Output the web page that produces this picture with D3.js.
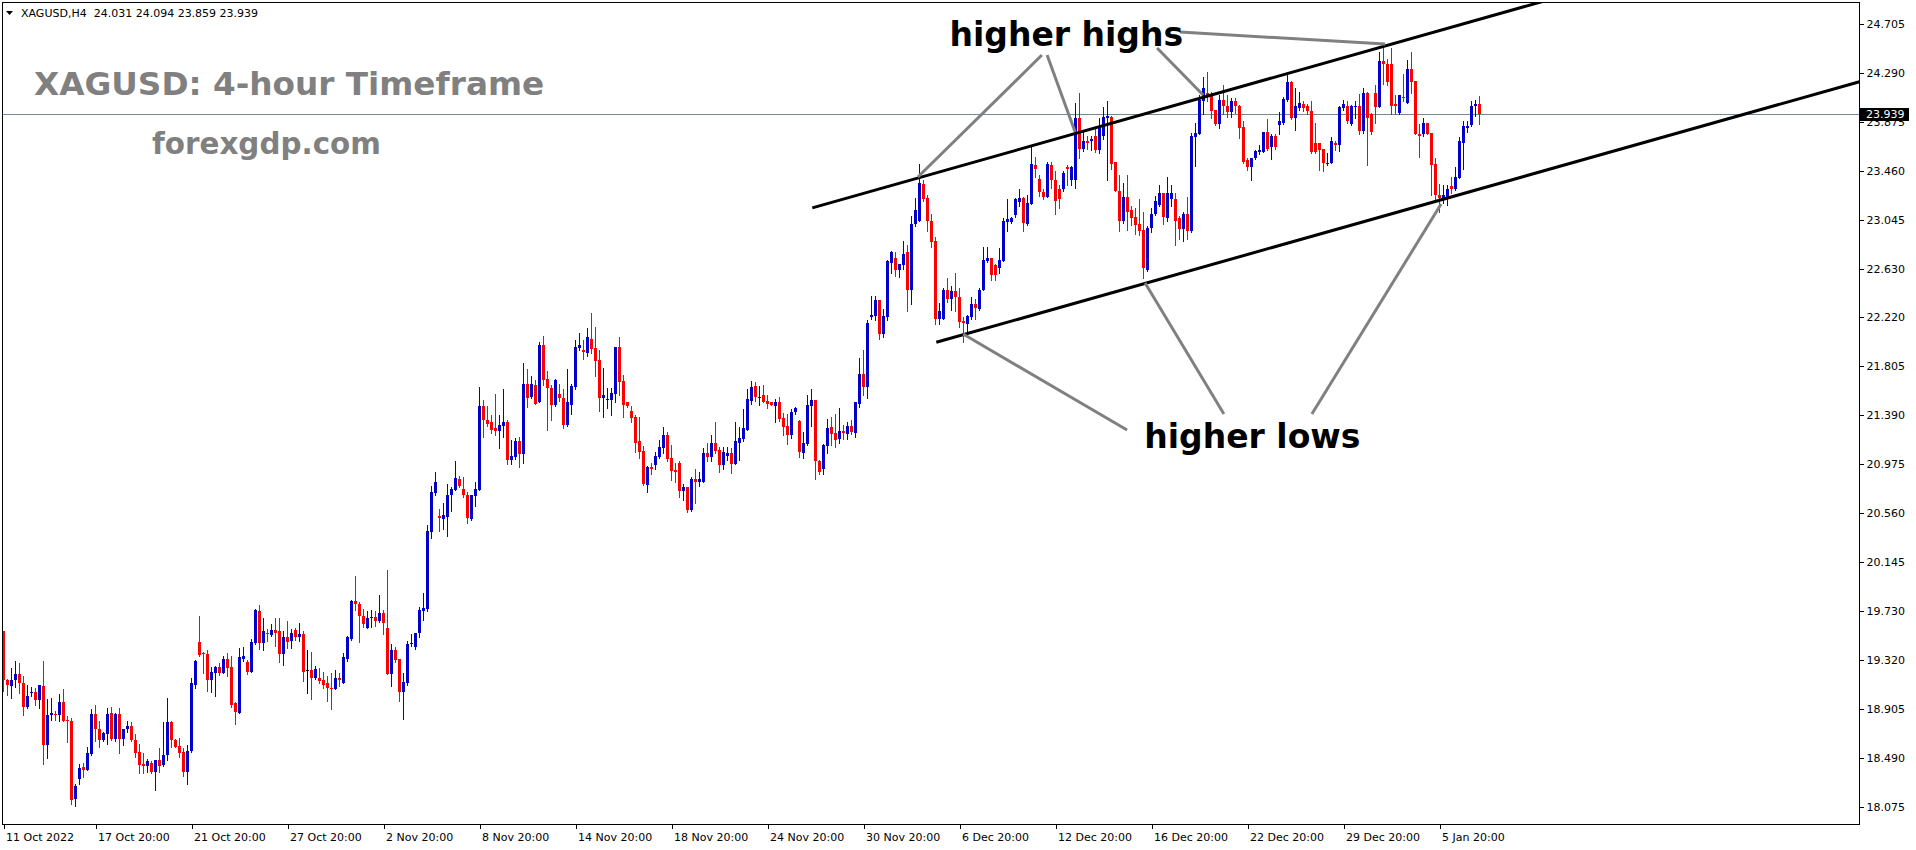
<!DOCTYPE html>
<html><head><meta charset="utf-8">
<script src="https://cdn.jsdelivr.net/npm/d3@7"></script>
<style>body{margin:0;background:#fff;overflow:hidden}svg{display:block}</style>
</head><body>
<svg id="chart" width="1916" height="850"></svg>
<script>
// ---------------- DATA (XAGUSD, H4) ----------------
const opens = [
19.56,19.15,19.10,19.15,19.20,19.12,18.92,19.04,19.05,18.98,
19.10,18.60,18.85,18.86,18.85,18.96,18.81,18.80,18.14,18.31,
18.41,18.39,18.52,18.86,18.73,18.64,18.69,18.87,18.65,18.86,
18.65,18.73,18.76,18.64,18.54,18.44,18.42,18.45,18.37,18.47,
18.43,18.51,18.79,18.64,18.59,18.54,18.37,18.55,19.11,19.47,
19.38,19.37,19.15,19.21,19.26,19.21,19.33,19.26,18.95,18.87,
19.33,19.30,19.22,19.46,19.73,19.46,19.55,19.53,19.57,19.56,
19.37,19.51,19.48,19.57,19.51,19.54,19.23,19.23,19.17,19.17,
19.15,19.12,19.08,19.07,19.17,19.12,19.33,19.50,19.82,19.79,
19.69,19.59,19.67,19.68,19.65,19.72,19.59,19.20,19.40,19.33,
19.05,19.12,19.45,19.43,19.55,19.73,19.75,20.40,20.73,20.54,
20.51,20.53,20.72,20.76,20.85,20.77,20.72,20.51,20.71,20.76,
21.47,21.35,21.33,21.28,21.26,21.30,21.33,21.01,21.04,21.17,
21.06,21.66,21.55,21.65,21.50,21.99,21.70,21.62,21.48,21.57,
21.54,21.31,21.48,21.63,21.96,21.94,21.92,22.04,21.96,21.86,
21.54,21.52,21.52,21.57,21.97,21.68,21.50,21.43,21.38,21.17,
21.09,20.80,20.95,20.97,21.04,21.11,21.22,21.03,20.93,20.99,
20.75,20.78,20.59,20.85,20.83,20.83,21.07,21.04,21.16,21.10,
20.97,21.05,21.07,20.98,21.16,21.19,21.27,21.51,21.64,21.54,
21.56,21.51,21.50,21.47,21.50,21.37,21.30,21.22,21.42,21.34,
21.07,21.15,21.47,21.52,21.00,20.94,21.13,21.29,21.24,21.19,
21.26,21.23,21.30,21.24,21.49,21.74,21.63,22.22,22.23,22.37,
22.08,22.22,22.68,22.72,22.62,22.66,22.77,22.45,23.01,23.04,
23.35,23.23,23.04,22.87,22.21,22.21,22.45,22.38,22.44,22.39,
22.19,22.16,22.22,22.33,22.29,22.45,22.70,22.72,22.66,22.64,
22.70,23.03,23.03,23.09,23.20,23.23,23.01,23.18,23.51,23.39,
23.28,23.24,23.51,23.38,23.31,23.31,23.49,23.38,23.38,23.91,
23.65,23.71,23.71,23.76,23.64,23.76,23.91,23.92,23.54,23.29,
23.04,23.24,23.13,23.07,23.01,22.96,22.62,22.98,23.10,23.17,
23.27,23.06,23.22,23.22,23.06,22.97,23.10,22.95,23.75,23.77,
24.05,24.12,24.10,23.98,23.86,24.06,24.01,23.96,24.05,24.01,
23.83,23.55,23.49,23.57,23.62,23.62,23.79,23.66,23.76,23.85,
23.87,24.06,24.21,23.91,23.99,24.03,24.01,23.97,23.70,23.70,
23.65,23.52,23.53,23.70,23.68,23.99,24.01,23.86,24.00,24.01,
23.80,24.12,23.94,24.12,24.00,24.39,24.37,24.37,24.03,23.95,
24.09,24.04,24.32,24.22,23.77,23.77,23.87,23.78,23.52,23.26,
23.23,23.23,23.33,23.31,23.40,23.70,23.82,23.85,24.01,24.031];
const highs = [
19.56,19.16,19.25,19.31,19.29,19.18,19.11,19.09,19.08,19.11,
19.31,18.99,19.00,18.89,19.03,19.07,18.84,18.83,18.27,18.44,
18.45,18.58,18.90,18.94,18.80,18.71,18.91,18.92,18.87,18.91,
18.73,18.80,18.79,18.69,18.61,18.53,18.48,18.46,18.47,18.57,
18.79,19.00,18.80,18.65,18.66,18.57,18.60,19.17,19.32,19.69,
19.39,19.40,19.26,19.27,19.29,19.35,19.38,19.35,18.96,19.42,
19.43,19.32,19.50,19.75,19.78,19.67,19.58,19.62,19.67,19.67,
19.56,19.65,19.58,19.59,19.63,19.56,19.40,19.39,19.27,19.25,
19.22,19.18,19.21,19.23,19.21,19.38,19.52,19.83,20.03,19.81,
19.75,19.73,19.74,19.73,19.87,19.74,20.08,19.45,19.43,19.33,
19.21,19.48,19.54,19.55,19.77,19.89,20.46,20.79,20.91,20.60,
20.65,20.81,20.78,21.00,20.88,20.87,20.74,20.72,20.83,21.63,
21.52,21.47,21.39,21.57,21.39,21.61,21.35,21.18,21.20,21.21,
21.83,21.78,21.72,21.69,22.01,22.06,21.77,21.65,21.70,21.66,
21.61,21.78,21.66,22.03,22.09,22.03,22.13,22.26,22.14,21.94,
21.79,21.62,21.62,21.97,22.05,21.73,21.50,21.47,21.39,21.38,
21.13,20.96,20.99,21.08,21.18,21.29,21.25,21.14,20.99,21.00,
20.81,20.78,20.87,20.94,20.91,21.11,21.16,21.22,21.33,21.12,
21.12,21.12,21.11,21.33,21.29,21.44,21.61,21.68,21.67,21.64,
21.65,21.56,21.50,21.53,21.55,21.41,21.40,21.44,21.46,21.35,
21.25,21.56,21.61,21.52,21.01,21.15,21.36,21.38,21.40,21.45,
21.31,21.33,21.35,21.50,21.88,21.94,22.20,22.40,22.40,22.37,
22.29,22.71,22.78,22.77,22.67,22.87,22.83,23.08,23.23,23.52,
23.38,23.26,23.10,22.90,22.34,22.47,22.55,22.49,22.60,22.47,
22.22,22.24,22.39,22.38,22.47,22.82,22.82,22.72,22.67,22.81,
23.06,23.22,23.07,23.23,23.31,23.24,23.26,23.66,23.58,23.43,
23.31,23.54,23.54,23.46,23.34,23.46,23.51,23.50,24.04,24.12,
23.80,23.76,23.76,23.82,23.91,24.00,24.05,23.93,23.54,23.43,
23.36,23.43,23.16,23.15,23.22,23.11,22.99,23.15,23.25,23.34,
23.27,23.41,23.34,23.27,23.08,23.11,23.24,23.78,23.87,24.10,
24.26,24.30,24.13,23.98,24.10,24.19,24.10,24.08,24.08,24.02,
23.88,23.57,23.57,23.64,23.68,23.79,23.90,23.77,23.77,23.96,
24.09,24.27,24.22,24.16,24.13,24.05,24.03,24.05,23.87,23.70,
23.65,23.61,23.75,23.71,24.01,24.06,24.05,24.02,24.05,24.11,
24.16,24.13,23.95,24.19,24.47,24.51,24.41,24.50,24.10,24.10,
24.28,24.40,24.47,24.22,23.86,23.91,23.87,23.78,23.57,23.35,
23.34,23.34,23.41,23.49,23.75,23.88,23.88,24.05,24.06,24.094];
const lows = [
19.06,19.02,19.00,19.09,19.04,18.85,18.91,19.01,18.94,18.91,
18.44,18.49,18.81,18.81,18.80,18.80,18.62,18.10,18.08,18.27,
18.33,18.39,18.51,18.63,18.58,18.63,18.61,18.64,18.63,18.53,
18.60,18.71,18.63,18.50,18.36,18.36,18.37,18.36,18.22,18.37,
18.42,18.47,18.58,18.58,18.50,18.34,18.27,18.54,19.08,19.35,
19.21,19.06,19.05,19.01,19.19,19.21,19.18,18.92,18.78,18.87,
19.31,19.20,19.22,19.45,19.41,19.40,19.48,19.52,19.44,19.30,
19.28,19.42,19.42,19.49,19.48,19.14,19.04,18.99,19.16,19.12,
19.08,18.97,18.90,19.07,19.10,19.12,19.31,19.49,19.74,19.47,
19.60,19.59,19.60,19.61,19.64,19.54,19.20,19.10,19.30,18.97,
18.82,19.11,19.44,19.41,19.51,19.66,19.73,20.35,20.72,20.41,
20.43,20.37,20.58,20.76,20.78,20.70,20.48,20.50,20.62,20.76,
21.21,21.30,21.24,21.22,21.11,21.21,20.98,20.98,21.02,20.95,
20.99,21.46,21.54,21.49,21.50,21.65,21.27,21.35,21.47,21.51,
21.28,21.30,21.40,21.61,21.94,21.87,21.89,21.92,21.72,21.43,
21.38,21.45,21.39,21.50,21.56,21.38,21.46,21.33,21.08,21.03,
20.80,20.74,20.89,20.94,21.03,21.07,21.00,20.84,20.83,20.70,
20.67,20.57,20.58,20.65,20.79,20.83,21.00,21.00,21.07,20.91,
20.94,21.01,20.90,20.98,21.01,21.17,21.27,21.49,21.51,21.48,
21.50,21.45,21.48,21.33,21.34,21.22,21.15,21.20,21.40,21.04,
21.03,21.14,21.30,20.85,20.89,20.89,21.07,21.14,21.12,21.16,
21.19,21.19,21.23,21.21,21.46,21.56,21.54,22.21,22.20,22.04,
22.05,22.20,22.60,22.57,22.56,22.63,22.27,22.33,22.99,23.04,
23.21,22.95,22.82,22.16,22.16,22.21,22.35,22.28,22.27,22.14,
22.01,22.10,22.21,22.21,22.28,22.45,22.69,22.54,22.54,22.60,
22.70,22.95,23.02,23.07,23.16,22.95,23.00,23.18,23.41,23.25,
23.22,23.24,23.32,23.10,23.15,23.29,23.34,23.34,23.32,23.57,
23.63,23.65,23.64,23.62,23.61,23.73,23.38,23.48,23.29,22.95,
23.02,22.96,23.00,22.93,22.92,22.55,22.61,22.94,23.09,23.16,
23.01,23.04,23.16,22.83,22.88,22.87,22.88,22.94,23.50,23.77,
23.94,24.05,23.91,23.85,23.82,23.94,23.92,23.92,23.95,23.74,
23.53,23.47,23.38,23.56,23.60,23.62,23.64,23.56,23.65,23.77,
23.86,24.05,23.90,23.81,23.98,23.97,23.94,23.61,23.61,23.47,
23.46,23.51,23.53,23.64,23.63,23.98,23.87,23.85,23.91,23.77,
23.78,23.51,23.77,23.87,24.00,24.20,24.19,23.94,23.94,23.94,
24.05,24.04,24.12,23.77,23.58,23.76,23.77,23.26,23.20,23.11,
23.19,23.17,23.27,23.30,23.40,23.48,23.79,23.84,23.93,23.859];
const closes = [
19.15,19.11,19.15,19.20,19.12,18.92,19.01,19.05,18.98,19.11,
18.60,18.85,18.87,18.85,18.96,18.80,18.80,18.13,18.25,18.40,
18.39,18.53,18.86,18.73,18.64,18.70,18.86,18.65,18.86,18.65,
18.73,18.76,18.64,18.53,18.43,18.42,18.46,18.37,18.47,18.42,
18.51,18.79,18.64,18.58,18.53,18.37,18.55,19.12,19.31,19.36,
19.37,19.15,19.22,19.26,19.21,19.33,19.25,18.94,18.88,19.34,
19.35,19.22,19.47,19.74,19.46,19.56,19.54,19.57,19.55,19.37,
19.51,19.47,19.55,19.51,19.54,19.22,19.23,19.17,19.24,19.14,
19.11,19.08,19.07,19.17,19.15,19.34,19.51,19.82,19.79,19.69,
19.62,19.67,19.68,19.65,19.72,19.63,19.20,19.40,19.32,19.05,
19.13,19.45,19.46,19.55,19.74,19.76,20.41,20.74,20.83,20.52,
20.55,20.72,20.77,20.86,20.79,20.72,20.52,20.72,20.77,21.47,
21.35,21.32,21.27,21.26,21.31,21.33,21.01,21.05,21.17,21.06,
21.66,21.54,21.66,21.49,21.99,21.69,21.62,21.48,21.69,21.54,
21.31,21.50,21.64,21.97,21.99,21.93,22.05,21.95,21.85,21.54,
21.56,21.53,21.58,21.97,21.67,21.48,21.47,21.37,21.16,21.08,
20.81,20.95,20.94,21.05,21.12,21.22,21.02,20.92,20.91,20.75,
20.78,20.59,20.85,20.83,20.85,21.07,21.04,21.16,21.09,20.97,
21.08,21.07,20.98,21.17,21.20,21.28,21.53,21.63,21.55,21.55,
21.50,21.49,21.48,21.50,21.36,21.29,21.22,21.42,21.45,21.08,
21.16,21.48,21.52,21.00,20.91,21.14,21.28,21.23,21.18,21.26,
21.24,21.30,21.25,21.50,21.74,21.63,22.17,22.24,22.37,22.08,
22.23,22.70,22.77,22.62,22.67,22.76,22.45,23.01,23.13,23.36,
23.22,23.04,22.86,22.21,22.27,22.45,22.38,22.44,22.39,22.18,
22.17,22.23,22.33,22.30,22.45,22.71,22.72,22.58,22.58,22.71,
23.04,23.05,23.06,23.22,23.23,23.02,23.19,23.52,23.48,23.28,
23.24,23.52,23.38,23.21,23.22,23.44,23.48,23.49,23.91,23.65,
23.71,23.70,23.73,23.64,23.83,23.92,23.93,23.52,23.29,23.04,
23.24,23.11,23.06,23.00,22.95,22.64,22.98,23.10,23.21,23.27,
23.07,23.27,23.27,23.04,22.97,23.10,22.95,23.76,23.78,24.06,
24.16,24.10,23.97,23.86,24.06,24.01,23.96,24.05,24.01,23.82,
23.54,23.49,23.57,23.63,23.64,23.79,23.65,23.76,23.66,23.88,
24.07,24.21,23.91,24.01,24.04,23.99,23.97,23.62,23.62,23.64,
23.53,23.53,23.71,23.68,24.00,24.03,23.88,24.01,24.01,23.80,
24.12,23.91,23.79,24.00,24.39,24.37,24.21,24.01,24.01,24.10,
24.08,24.32,24.21,23.77,23.76,23.87,23.77,23.51,23.26,23.23,
23.26,23.31,23.31,23.41,23.71,23.84,23.84,24.01,24.03,23.939];

const priceTicks = [24.705,24.290,23.875,23.460,23.045,22.630,22.220,21.805,21.390,20.975,20.560,20.145,19.730,19.320,18.905,18.490,18.075];
const timeLabels = ["11 Oct 2022","17 Oct 20:00","21 Oct 20:00","27 Oct 20:00","2 Nov 20:00","8 Nov 20:00","14 Nov 20:00","18 Nov 20:00","24 Nov 20:00","30 Nov 20:00","6 Dec 20:00","12 Dec 20:00","16 Dec 20:00","22 Dec 20:00","29 Dec 20:00","5 Jan 20:00"];
const timeLabelBars = [0,23,47,71,95,119,143,167,191,215,239,263,287,311,335,359];
const headerText = "XAGUSD,H4  24.031 24.094 23.859 23.939";
const lastPrice = 23.939;
const titleText = "XAGUSD: 4-hour Timeframe";
const siteText = "forexgdp.com";
// drawn objects in (bar index, price)
const channelLines = [
  [[202.2, 23.148], [385.4, 24.902]],
  [[233.2, 22.009], [464.0, 24.216]]
];
const pointerLines = [
  [[259.6,24.442],[228.6,23.409]],
  [[260.9,24.442],[267.9,23.790]],
  [[288.4,24.502],[299.9,24.104]],
  [[294.1,24.637],[345.4,24.536]],
  [[239.9,22.079],[280.9,21.266]],
  [[285.4,22.511],[305.1,21.402]],
  [[327.1,21.402],[359.4,23.180]]
];
const annotations = [
  {text:"higher highs", bar:236.5, price:24.519},
  {text:"higher lows", bar:285.2, price:21.114}
];

// ---------------- LAYOUT ----------------
const W = 1916, H = 850;
const frame = {left:2, top:2, right:1859, bottom:824};
const N = opens.length;
const x = d3.scaleLinear().domain([0, N-1]).range([3.5, 3.5 + 4*(N-1)]);
const y = d3.scaleLinear().domain([18.075, 24.705]).range([806.8, 24]);

const svg = d3.select("#chart");
svg.append("rect").attr("width",W).attr("height",H).attr("fill","#fff");
svg.append("defs").append("clipPath").attr("id","plot")
  .append("rect").attr("x",frame.left).attr("y",frame.top)
  .attr("width",frame.right-frame.left).attr("height",frame.bottom-frame.top);

const plot = svg.append("g").attr("clip-path","url(#plot)");

// bid line
plot.append("line").attr("x1",frame.left).attr("x2",frame.right)
  .attr("y1",Math.round(y(lastPrice))+0.5).attr("y2",Math.round(y(lastPrice))+0.5)
  .attr("stroke","#778899").attr("stroke-width",1);

// candles
const idx = d3.range(N);
const col = i => closes[i] > opens[i] ? "#0000CD" : (closes[i] < opens[i] ? "#FF0000" : "#000000");
const cg = plot.append("g").attr("shape-rendering","crispEdges");
cg.selectAll("line.wick").data(idx).join("line").attr("class","wick")
  .attr("x1",i=>Math.floor(x(i))+0.5).attr("x2",i=>Math.floor(x(i))+0.5)
  .attr("y1",i=>Math.round(y(highs[i]))).attr("y2",i=>Math.round(y(lows[i]))+1)
  .attr("stroke",col).attr("stroke-width",1);
cg.selectAll("rect.body").data(idx).join("rect").attr("class","body")
  .attr("x",i=>Math.floor(x(i))-1).attr("width",3)
  .attr("y",i=>Math.round(y(Math.max(opens[i],closes[i]))))
  .attr("height",i=>Math.max(1, Math.round(y(Math.min(opens[i],closes[i]))) - Math.round(y(Math.max(opens[i],closes[i])))))
  .attr("fill",col);

// channel lines
plot.selectAll("line.chan").data(channelLines).join("line").attr("class","chan")
  .attr("x1",d=>x(d[0][0])).attr("y1",d=>y(d[0][1]))
  .attr("x2",d=>x(d[1][0])).attr("y2",d=>y(d[1][1]))
  .attr("stroke","#000").attr("stroke-width",3);

// pointer lines
plot.selectAll("line.ptr").data(pointerLines).join("line").attr("class","ptr")
  .attr("x1",d=>x(d[0][0])).attr("y1",d=>y(d[0][1]))
  .attr("x2",d=>x(d[1][0])).attr("y2",d=>y(d[1][1]))
  .attr("stroke","#808080").attr("stroke-width",3);

// annotation texts
plot.selectAll("text.ann").data(annotations).join("text").attr("class","ann")
  .attr("x",d=>x(d.bar)).attr("y",d=>y(d.price))
  .attr("font-family","DejaVu Sans").attr("font-weight","bold").attr("font-size",33)
  .attr("fill","#000").text(d=>d.text);

// title texts
svg.append("text").attr("x",34).attr("y",95)
  .attr("font-family","DejaVu Sans").attr("font-weight","bold").attr("font-size",32.7)
  .attr("fill","#808080").text(titleText);
svg.append("text").attr("x",152).attr("y",154)
  .attr("font-family","DejaVu Sans").attr("font-weight","bold").attr("font-size",29.4)
  .attr("fill","#808080").text(siteText);

// header
svg.append("path").attr("d","M6,11 L13,11 L9.5,15 Z").attr("fill","#000");
svg.append("text").attr("x",21).attr("y",17)
  .attr("font-family","DejaVu Sans").attr("font-size",11).attr("fill","#000")
  .attr("xml:space","preserve").style("white-space","pre").text(headerText);

// frame
svg.append("rect").attr("x",frame.left+0.5).attr("y",frame.top+0.5)
  .attr("width",frame.right-frame.left).attr("height",frame.bottom-frame.top)
  .attr("fill","none").attr("stroke","#000").attr("stroke-width",1).attr("shape-rendering","crispEdges");

// price axis
const ya = svg.append("g").attr("transform",`translate(${frame.right+0.5},0)`)
  .call(d3.axisRight(y).tickValues(priceTicks).tickSize(4).tickPadding(3).tickFormat(d3.format(".3f")));
ya.select(".domain").remove();
ya.selectAll("text").attr("font-family","DejaVu Sans").attr("font-size",11).attr("fill","#000");
ya.selectAll("line").attr("stroke","#000").attr("shape-rendering","crispEdges");

// last price box (drawn over the 23.875 label, as in the terminal)
const ly = y(lastPrice);
svg.append("rect").attr("x",frame.right+1).attr("y",Math.round(ly)-6).attr("width",49).attr("height",13).attr("fill","#000");
svg.append("text").attr("x",1866).attr("y",ly).attr("dy","0.32em")
  .attr("font-family","DejaVu Sans").attr("font-size",11).attr("fill","#fff").text(d3.format(".3f")(lastPrice));

// time axis
const xa = svg.append("g").attr("transform",`translate(0,${frame.bottom+0.5})`)
  .call(d3.axisBottom(x).tickValues(timeLabelBars).tickSize(4).tickFormat((d,i)=>timeLabels[i]));
xa.select(".domain").remove();
xa.selectAll("line").attr("stroke","#000").attr("shape-rendering","crispEdges");
xa.selectAll("text").attr("text-anchor","start").attr("dx",2).attr("y",9).attr("dy","0.71em")
  .attr("font-family","DejaVu Sans").attr("font-size",11).attr("fill","#000");
</script>
</body></html>
